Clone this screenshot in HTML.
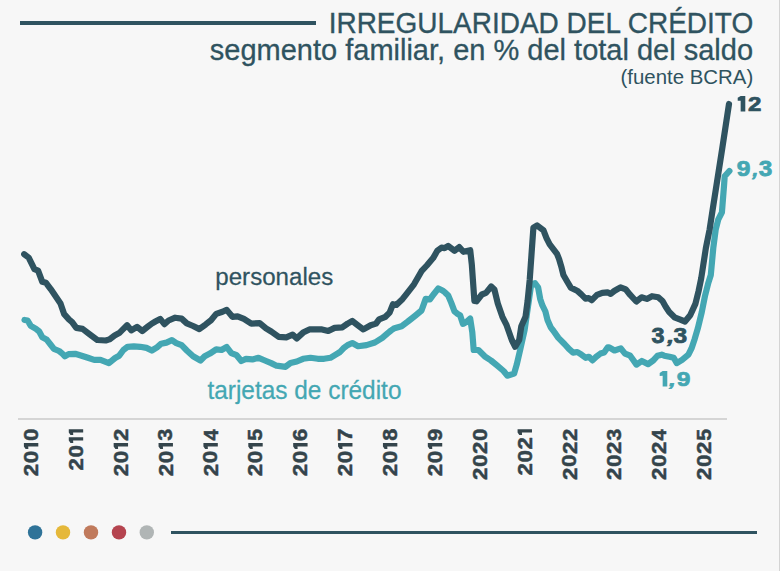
<!DOCTYPE html>
<html><head><meta charset="utf-8"><style>
html,body{margin:0;padding:0;background:#f7f7f7;}
body{width:780px;height:571px;overflow:hidden;position:relative;}
svg{position:absolute;left:0;top:0;}
text{font-family:"Liberation Sans",sans-serif;}
.yr{font-weight:bold;font-size:21px;fill:#34444b;}
</style></head><body>
<svg width="780" height="571" viewBox="0 0 780 571">
<rect x="0" y="0" width="780" height="571" fill="#f7f7f7"/>
<rect x="779" y="0" width="1" height="571" fill="#d4d4d4"/>
<rect x="20" y="21" width="296" height="4" fill="#2f5360"/>
<text transform="translate(328.65,32.9) scale(0.949,1)" font-size="29.5" fill="#2f5360" stroke="#2f5360" stroke-width="0.35">IRREGULARIDAD DEL CRÉDITO</text>
<text transform="translate(209.8,59.5) scale(0.983,1)" font-size="29.5" fill="#2f5360" stroke="#2f5360" stroke-width="0.3">segmento familiar, en % del total del saldo</text>
<text transform="translate(620.5,83.7) scale(1.026,1)" font-size="19.9" fill="#2f5360">(fuente BCRA)</text>
<rect x="18" y="418" width="709" height="2" fill="#d5d5d5"/>
<path d="M24.5,320 L27.6,320.5 L30.8,325.8 L36,328.9 L39.2,331.5 L42.3,337.3 L46.5,339.4 L50.7,344.7 L53.9,348.9 L59.1,351 L62.3,353.6 L64.9,356.2 L68.6,354.1 L75.2,353.8 L81.6,355.7 L87.9,357.8 L94.2,359.9 L100.5,359.9 L108.9,363.1 L115.1,358 L119.2,355.7 L123.4,350 L127.6,346.8 L133.9,346.3 L140.2,346.8 L146.5,347.9 L151.8,350.5 L157,347.3 L161.2,343.7 L166.5,342.6 L171.9,340.2 L176.3,343.1 L181.6,345.2 L186.8,350.5 L193.1,356.3 L200.5,360.5 L204.7,356.3 L209.9,353.6 L216.2,349.4 L221.5,350 L226.7,347 L231.3,353.1 L236.6,355.2 L241.3,361 L246,358.9 L252.3,359.4 L258.6,357.8 L264.9,360.5 L271.2,363.1 L276.5,365.7 L285.5,366.8 L290.5,363 L296.8,361.5 L303.1,358.8 L310.5,357.8 L317.8,358.8 L324.1,358.8 L330.4,357.8 L335.7,354.6 L340,352 L343.4,348.3 L347.6,345.1 L352.3,343 L358.1,346.2 L366.5,345.1 L374.9,342.5 L382.3,337.8 L387.5,333.3 L391,330.5 L394.5,328.2 L401.6,326.2 L407.9,321.5 L415.2,315.7 L421.5,310.5 L425.7,298.9 L429.9,299.4 L434.1,293.7 L438.3,288.4 L442.5,290.5 L445,292.4 L448.2,295.5 L451.3,302.9 L454.5,311.3 L457.6,313.9 L460.2,315.5 L462.9,323.9 L466,322.3 L470.2,318.6 L472.3,332.3 L473.7,350 L478.4,350 L484.7,356.3 L491,360.5 L497.3,365.7 L503.6,371 L507.3,375.7 L514.1,373.6 L516.7,364.7 L520.4,348.9 L524.6,330 L531.2,284.2 L534.9,283.2 L538.1,287.4 L540.2,298.9 L542.3,305.2 L545.4,311.5 L547.5,319.9 L550.7,327.3 L553.2,330.5 L558.4,337.9 L564.7,344.2 L568.9,348.9 L573.1,352.6 L577.3,352 L581.5,354.7 L585.7,357.8 L588.9,356.8 L592.5,360.4 L596.2,356.8 L600.4,353.6 L604.1,352.6 L607.8,347.3 L609.2,347.3 L614.5,350.5 L620.8,348.4 L625,353.6 L630.2,355.7 L636.5,364.6 L641.8,361 L648.1,364.1 L653.3,360.4 L657.5,355.7 L661.7,354.7 L664.2,355.7 L669.5,356.8 L673.7,357.8 L676.8,363.1 L682.1,359.9 L688.4,354.7 L691.5,348.4 L694.7,338.9 L697.8,328.4 L701.8,312 L704.9,296.3 L708.1,283.7 L710.8,275 L713.3,247.9 L715.7,229.5 L718.2,219.7 L721.9,212.4 L722.5,205 L724.1,184.7 L724.7,176.3 L729.4,171" fill="none" stroke="#44a7b3" stroke-width="6.2" stroke-linejoin="round" stroke-linecap="round"/>
<path d="M24.2,254.2 L28.7,257.6 L34.4,269.2 L38.1,270.7 L42.3,281.8 L46,282.8 L50.7,289.1 L60.5,303.5 L64.2,314.2 L68.9,319.4 L72.1,322.1 L76.3,327.9 L82.6,328.9 L88.9,333.7 L97.3,340 L105.7,340.5 L109.4,339.4 L114.6,335.5 L119.2,333.1 L122.4,329.9 L127.1,325.2 L131.3,330.4 L137.1,326.8 L142.3,331 L147.6,326.8 L151.8,323.6 L155.4,321.5 L160.2,318.9 L164.4,324.1 L168.6,320.5 L175.2,317.7 L181.6,318.6 L186.8,323.4 L193.1,326 L199.4,329.1 L205.7,324.4 L211,320.2 L216.2,313.9 L222.5,311.8 L226.7,309.9 L232.4,316.8 L237.6,316.3 L243.9,318.9 L251.3,323.6 L259.7,323.1 L266,328.4 L271.2,331.5 L278.6,336.8 L286.3,337.3 L292.6,334.7 L296.8,338.4 L303.1,332.6 L309.4,329.4 L316.8,329.4 L322,329.4 L328.3,331 L334.6,327.9 L342.4,327.3 L347.6,323.6 L352.3,321 L357.1,324.7 L363.4,329.4 L370.7,325.2 L376,323.6 L379.1,319.4 L385.4,316.8 L389.6,312.6 L393,304.2 L396.3,305 L402.6,298.9 L405.8,294.8 L414,284.3 L421.5,271.2 L426.8,265.5 L433.1,258.1 L437.3,250.8 L441.5,247.6 L444.6,248.1 L448.2,246 L454.5,250.8 L459.2,247.1 L463.4,251.8 L470.2,250.2 L471.8,264.4 L474.4,301 L476.5,301.3 L481.8,294.5 L486,292.9 L491.2,286.5 L494.4,289.5 L497.8,303.5 L502.4,316.8 L506.6,325.2 L511.8,340 L515.2,346.8 L519.2,340 L521.3,326.2 L525.5,316.8 L527.6,301 L529.7,280 L533.4,227.6 L537.1,225.5 L543.4,230.2 L546.5,238.1 L549.7,244.4 L557,253.9 L559.1,259.1 L561.3,266.6 L563.4,275 L567.6,282.3 L570.8,287.6 L577.1,290.7 L581.3,294.4 L585.5,298.6 L588.6,298.1 L591.8,300.2 L597,294.9 L602.3,292.8 L607.5,292.3 L610.7,293.9 L614.2,291 L620.5,287.3 L625.8,289.4 L630,294.7 L636.3,301.5 L641.5,297.3 L646.8,298.9 L652,296.2 L658.3,297.3 L662.5,301 L665.7,306.7 L669.2,312 L674.5,317.3 L679.7,319.4 L685,321.5 L690.2,315.2 L695.5,303.6 L698.6,291 L701.2,278.4 L705.9,247.9 L709.6,229.5 L712.6,210 L722,150 L729,104" fill="none" stroke="#2f5360" stroke-width="6.2" stroke-linejoin="round" stroke-linecap="round"/>
<text transform="translate(215.3,284.8) scale(0.985,1)" font-size="24.5" fill="#2f5360" stroke="#2f5360" stroke-width="0.25">personales</text>
<text transform="translate(207.4,398.9) scale(0.977,1)" font-size="25" fill="#44a7b3" stroke="#44a7b3" stroke-width="0.25">tarjetas de crédito</text>
<text transform="translate(38.05,476.22) rotate(-90) scale(0.2222,0.1991)" font-size="100" font-weight="bold" fill="#34444b" stroke="#34444b" stroke-width="2.373" stroke-linejoin="round">2</text><text transform="translate(37.86,463.34) rotate(-90) scale(0.2250,0.1963)" font-size="100" font-weight="bold" fill="#34444b" stroke="#34444b" stroke-width="2.374" stroke-linejoin="round">0</text><path d="M23.90,446.42 L23.90,443.00 L38.30,443.00 L38.30,446.42 L28.22,446.42 L28.36,448.90 L25.63,448.90Z" fill="#34444b"/><text transform="translate(37.86,441.04) rotate(-90) scale(0.2250,0.1963)" font-size="100" font-weight="bold" fill="#34444b" stroke="#34444b" stroke-width="2.374" stroke-linejoin="round">0</text><text transform="translate(82.93,470.42) rotate(-90) scale(0.2222,0.1991)" font-size="100" font-weight="bold" fill="#34444b" stroke="#34444b" stroke-width="2.373" stroke-linejoin="round">2</text><text transform="translate(82.74,457.54) rotate(-90) scale(0.2250,0.1963)" font-size="100" font-weight="bold" fill="#34444b" stroke="#34444b" stroke-width="2.374" stroke-linejoin="round">0</text><path d="M68.78,440.62 L68.78,437.20 L83.18,437.20 L83.18,440.62 L73.10,440.62 L73.24,443.10 L70.51,443.10Z" fill="#34444b"/><path d="M68.78,432.62 L68.78,429.20 L83.18,429.20 L83.18,432.62 L73.10,432.62 L73.24,435.10 L70.51,435.10Z" fill="#34444b"/><text transform="translate(127.81,476.22) rotate(-90) scale(0.2222,0.1991)" font-size="100" font-weight="bold" fill="#34444b" stroke="#34444b" stroke-width="2.373" stroke-linejoin="round">2</text><text transform="translate(127.62,463.34) rotate(-90) scale(0.2250,0.1963)" font-size="100" font-weight="bold" fill="#34444b" stroke="#34444b" stroke-width="2.374" stroke-linejoin="round">0</text><path d="M113.66,446.42 L113.66,443.00 L128.06,443.00 L128.06,446.42 L117.98,446.42 L118.12,448.90 L115.39,448.90Z" fill="#34444b"/><text transform="translate(127.81,440.92) rotate(-90) scale(0.2222,0.1991)" font-size="100" font-weight="bold" fill="#34444b" stroke="#34444b" stroke-width="2.373" stroke-linejoin="round">2</text><text transform="translate(172.69,476.22) rotate(-90) scale(0.2222,0.1991)" font-size="100" font-weight="bold" fill="#34444b" stroke="#34444b" stroke-width="2.373" stroke-linejoin="round">2</text><text transform="translate(172.50,463.34) rotate(-90) scale(0.2250,0.1963)" font-size="100" font-weight="bold" fill="#34444b" stroke="#34444b" stroke-width="2.374" stroke-linejoin="round">0</text><path d="M158.54,446.42 L158.54,443.00 L172.94,443.00 L172.94,446.42 L162.86,446.42 L163.00,448.90 L160.27,448.90Z" fill="#34444b"/><text transform="translate(172.47,440.64) rotate(-90) scale(0.2153,0.1959)" font-size="100" font-weight="bold" fill="#34444b" stroke="#34444b" stroke-width="2.432" stroke-linejoin="round">3</text><text transform="translate(217.57,476.22) rotate(-90) scale(0.2222,0.1991)" font-size="100" font-weight="bold" fill="#34444b" stroke="#34444b" stroke-width="2.373" stroke-linejoin="round">2</text><text transform="translate(217.38,463.34) rotate(-90) scale(0.2250,0.1963)" font-size="100" font-weight="bold" fill="#34444b" stroke="#34444b" stroke-width="2.374" stroke-linejoin="round">0</text><path d="M203.42,446.42 L203.42,443.00 L217.82,443.00 L217.82,446.42 L207.74,446.42 L207.88,448.90 L205.15,448.90Z" fill="#34444b"/><text transform="translate(217.57,440.45) rotate(-90) scale(0.1998,0.2020)" font-size="100" font-weight="bold" fill="#34444b" stroke="#34444b" stroke-width="2.489" stroke-linejoin="round">4</text><text transform="translate(262.45,476.22) rotate(-90) scale(0.2222,0.1991)" font-size="100" font-weight="bold" fill="#34444b" stroke="#34444b" stroke-width="2.373" stroke-linejoin="round">2</text><text transform="translate(262.26,463.34) rotate(-90) scale(0.2250,0.1963)" font-size="100" font-weight="bold" fill="#34444b" stroke="#34444b" stroke-width="2.374" stroke-linejoin="round">0</text><path d="M248.30,446.42 L248.30,443.00 L262.70,443.00 L262.70,446.42 L252.62,446.42 L252.76,448.90 L250.03,448.90Z" fill="#34444b"/><text transform="translate(262.26,440.81) rotate(-90) scale(0.2151,0.1992)" font-size="100" font-weight="bold" fill="#34444b" stroke="#34444b" stroke-width="2.414" stroke-linejoin="round">5</text><text transform="translate(307.33,476.22) rotate(-90) scale(0.2222,0.1991)" font-size="100" font-weight="bold" fill="#34444b" stroke="#34444b" stroke-width="2.373" stroke-linejoin="round">2</text><text transform="translate(307.14,463.34) rotate(-90) scale(0.2250,0.1963)" font-size="100" font-weight="bold" fill="#34444b" stroke="#34444b" stroke-width="2.374" stroke-linejoin="round">0</text><path d="M293.18,446.42 L293.18,443.00 L307.58,443.00 L307.58,446.42 L297.50,446.42 L297.64,448.90 L294.91,448.90Z" fill="#34444b"/><text transform="translate(307.14,440.96) rotate(-90) scale(0.2213,0.1963)" font-size="100" font-weight="bold" fill="#34444b" stroke="#34444b" stroke-width="2.394" stroke-linejoin="round">6</text><text transform="translate(352.21,476.22) rotate(-90) scale(0.2222,0.1991)" font-size="100" font-weight="bold" fill="#34444b" stroke="#34444b" stroke-width="2.373" stroke-linejoin="round">2</text><text transform="translate(352.02,463.34) rotate(-90) scale(0.2250,0.1963)" font-size="100" font-weight="bold" fill="#34444b" stroke="#34444b" stroke-width="2.374" stroke-linejoin="round">0</text><path d="M338.06,446.42 L338.06,443.00 L352.46,443.00 L352.46,446.42 L342.38,446.42 L342.52,448.90 L339.79,448.90Z" fill="#34444b"/><text transform="translate(352.21,441.13) rotate(-90) scale(0.2280,0.2020)" font-size="100" font-weight="bold" fill="#34444b" stroke="#34444b" stroke-width="2.325" stroke-linejoin="round">7</text><text transform="translate(397.09,476.22) rotate(-90) scale(0.2222,0.1991)" font-size="100" font-weight="bold" fill="#34444b" stroke="#34444b" stroke-width="2.373" stroke-linejoin="round">2</text><text transform="translate(396.90,463.34) rotate(-90) scale(0.2250,0.1963)" font-size="100" font-weight="bold" fill="#34444b" stroke="#34444b" stroke-width="2.374" stroke-linejoin="round">0</text><path d="M382.94,446.42 L382.94,443.00 L397.34,443.00 L397.34,446.42 L387.26,446.42 L387.40,448.90 L384.67,448.90Z" fill="#34444b"/><text transform="translate(396.90,440.84) rotate(-90) scale(0.2168,0.1963)" font-size="100" font-weight="bold" fill="#34444b" stroke="#34444b" stroke-width="2.421" stroke-linejoin="round">8</text><text transform="translate(441.97,476.22) rotate(-90) scale(0.2222,0.1991)" font-size="100" font-weight="bold" fill="#34444b" stroke="#34444b" stroke-width="2.373" stroke-linejoin="round">2</text><text transform="translate(441.78,463.34) rotate(-90) scale(0.2250,0.1963)" font-size="100" font-weight="bold" fill="#34444b" stroke="#34444b" stroke-width="2.374" stroke-linejoin="round">0</text><path d="M427.82,446.42 L427.82,443.00 L442.22,443.00 L442.22,446.42 L432.14,446.42 L432.28,448.90 L429.55,448.90Z" fill="#34444b"/><text transform="translate(441.78,440.92) rotate(-90) scale(0.2209,0.1963)" font-size="100" font-weight="bold" fill="#34444b" stroke="#34444b" stroke-width="2.397" stroke-linejoin="round">9</text><text transform="translate(486.85,479.92) rotate(-90) scale(0.2222,0.1991)" font-size="100" font-weight="bold" fill="#34444b" stroke="#34444b" stroke-width="2.373" stroke-linejoin="round">2</text><text transform="translate(486.66,467.04) rotate(-90) scale(0.2250,0.1963)" font-size="100" font-weight="bold" fill="#34444b" stroke="#34444b" stroke-width="2.374" stroke-linejoin="round">0</text><text transform="translate(486.85,453.92) rotate(-90) scale(0.2222,0.1991)" font-size="100" font-weight="bold" fill="#34444b" stroke="#34444b" stroke-width="2.373" stroke-linejoin="round">2</text><text transform="translate(486.66,441.04) rotate(-90) scale(0.2250,0.1963)" font-size="100" font-weight="bold" fill="#34444b" stroke="#34444b" stroke-width="2.374" stroke-linejoin="round">0</text><text transform="translate(531.73,475.42) rotate(-90) scale(0.2222,0.1991)" font-size="100" font-weight="bold" fill="#34444b" stroke="#34444b" stroke-width="2.373" stroke-linejoin="round">2</text><text transform="translate(531.54,462.54) rotate(-90) scale(0.2250,0.1963)" font-size="100" font-weight="bold" fill="#34444b" stroke="#34444b" stroke-width="2.374" stroke-linejoin="round">0</text><text transform="translate(531.73,449.42) rotate(-90) scale(0.2222,0.1991)" font-size="100" font-weight="bold" fill="#34444b" stroke="#34444b" stroke-width="2.373" stroke-linejoin="round">2</text><path d="M517.58,432.62 L517.58,429.20 L531.98,429.20 L531.98,432.62 L521.90,432.62 L522.04,435.10 L519.31,435.10Z" fill="#34444b"/><text transform="translate(576.61,479.92) rotate(-90) scale(0.2222,0.1991)" font-size="100" font-weight="bold" fill="#34444b" stroke="#34444b" stroke-width="2.373" stroke-linejoin="round">2</text><text transform="translate(576.42,467.04) rotate(-90) scale(0.2250,0.1963)" font-size="100" font-weight="bold" fill="#34444b" stroke="#34444b" stroke-width="2.374" stroke-linejoin="round">0</text><text transform="translate(576.61,453.92) rotate(-90) scale(0.2222,0.1991)" font-size="100" font-weight="bold" fill="#34444b" stroke="#34444b" stroke-width="2.373" stroke-linejoin="round">2</text><text transform="translate(576.61,440.92) rotate(-90) scale(0.2222,0.1991)" font-size="100" font-weight="bold" fill="#34444b" stroke="#34444b" stroke-width="2.373" stroke-linejoin="round">2</text><text transform="translate(621.49,479.92) rotate(-90) scale(0.2222,0.1991)" font-size="100" font-weight="bold" fill="#34444b" stroke="#34444b" stroke-width="2.373" stroke-linejoin="round">2</text><text transform="translate(621.30,467.04) rotate(-90) scale(0.2250,0.1963)" font-size="100" font-weight="bold" fill="#34444b" stroke="#34444b" stroke-width="2.374" stroke-linejoin="round">0</text><text transform="translate(621.49,453.92) rotate(-90) scale(0.2222,0.1991)" font-size="100" font-weight="bold" fill="#34444b" stroke="#34444b" stroke-width="2.373" stroke-linejoin="round">2</text><text transform="translate(621.27,440.64) rotate(-90) scale(0.2153,0.1959)" font-size="100" font-weight="bold" fill="#34444b" stroke="#34444b" stroke-width="2.432" stroke-linejoin="round">3</text><text transform="translate(666.37,479.92) rotate(-90) scale(0.2222,0.1991)" font-size="100" font-weight="bold" fill="#34444b" stroke="#34444b" stroke-width="2.373" stroke-linejoin="round">2</text><text transform="translate(666.18,467.04) rotate(-90) scale(0.2250,0.1963)" font-size="100" font-weight="bold" fill="#34444b" stroke="#34444b" stroke-width="2.374" stroke-linejoin="round">0</text><text transform="translate(666.37,453.92) rotate(-90) scale(0.2222,0.1991)" font-size="100" font-weight="bold" fill="#34444b" stroke="#34444b" stroke-width="2.373" stroke-linejoin="round">2</text><text transform="translate(666.37,440.45) rotate(-90) scale(0.1998,0.2020)" font-size="100" font-weight="bold" fill="#34444b" stroke="#34444b" stroke-width="2.489" stroke-linejoin="round">4</text><text transform="translate(711.25,479.92) rotate(-90) scale(0.2222,0.1991)" font-size="100" font-weight="bold" fill="#34444b" stroke="#34444b" stroke-width="2.373" stroke-linejoin="round">2</text><text transform="translate(711.06,467.04) rotate(-90) scale(0.2250,0.1963)" font-size="100" font-weight="bold" fill="#34444b" stroke="#34444b" stroke-width="2.374" stroke-linejoin="round">0</text><text transform="translate(711.25,453.92) rotate(-90) scale(0.2222,0.1991)" font-size="100" font-weight="bold" fill="#34444b" stroke="#34444b" stroke-width="2.373" stroke-linejoin="round">2</text><text transform="translate(711.06,440.81) rotate(-90) scale(0.2151,0.1992)" font-size="100" font-weight="bold" fill="#34444b" stroke="#34444b" stroke-width="2.414" stroke-linejoin="round">5</text>
<path d="M740.66,96.00 L745.30,96.00 L745.30,111.50 L740.66,111.50 L740.66,100.65 L737.70,100.81 L737.70,97.86Z" fill="#2f5360"/><text transform="translate(747.96,111.10) scale(0.2409,0.2105)" font-size="100" font-weight="bold" fill="#2f5360" stroke="#2f5360" stroke-width="3.544" stroke-linejoin="round">2</text><text transform="translate(736.65,176.29) scale(0.2457,0.2161)" font-size="100" font-weight="bold" fill="#44a7b3" stroke="#44a7b3" stroke-width="3.465" stroke-linejoin="round">9</text><text transform="translate(751.52,175.69) skewX(-15) scale(0.2027,0.1943)" font-size="100" font-weight="bold" fill="#44a7b3" stroke="#44a7b3" stroke-width="4.031" stroke-linejoin="round">,</text><text transform="translate(758.74,176.26) scale(0.2434,0.2157)" font-size="100" font-weight="bold" fill="#44a7b3" stroke="#44a7b3" stroke-width="3.485" stroke-linejoin="round">3</text><path d="M662.66,371.10 L667.30,371.10 L667.30,386.60 L662.66,386.60 L662.66,375.75 L659.70,375.91 L659.70,372.96Z" fill="#44a7b3"/><text transform="translate(667.89,385.75) skewX(-15) scale(0.2377,0.1778)" font-size="100" font-weight="bold" fill="#44a7b3" stroke="#44a7b3" stroke-width="3.851" stroke-linejoin="round">,</text><text transform="translate(676.75,386.00) scale(0.2457,0.2076)" font-size="100" font-weight="bold" fill="#44a7b3" stroke="#44a7b3" stroke-width="3.530" stroke-linejoin="round">9</text><text transform="translate(651.56,343.06) scale(0.2334,0.2142)" font-size="100" font-weight="bold" fill="#2f5360" stroke="#2f5360" stroke-width="3.575" stroke-linejoin="round">3</text><text transform="translate(666.04,342.59) skewX(-15) scale(0.2446,0.1943)" font-size="100" font-weight="bold" fill="#2f5360" stroke="#2f5360" stroke-width="3.645" stroke-linejoin="round">,</text><text transform="translate(673.54,343.06) scale(0.2454,0.2142)" font-size="100" font-weight="bold" fill="#2f5360" stroke="#2f5360" stroke-width="3.481" stroke-linejoin="round">3</text>
<circle cx="35.1" cy="532.4" r="7.2" fill="#2f7398"/>
<circle cx="63" cy="532.4" r="7.2" fill="#e5b83a"/>
<circle cx="91" cy="532.4" r="7.2" fill="#c07a5c"/>
<circle cx="119" cy="532.4" r="7.2" fill="#b5444f"/>
<circle cx="146.8" cy="532.4" r="7.2" fill="#b0b5b5"/>
<rect x="171" y="531" width="586" height="3" fill="#2f5360"/>
</svg>
</body></html>
